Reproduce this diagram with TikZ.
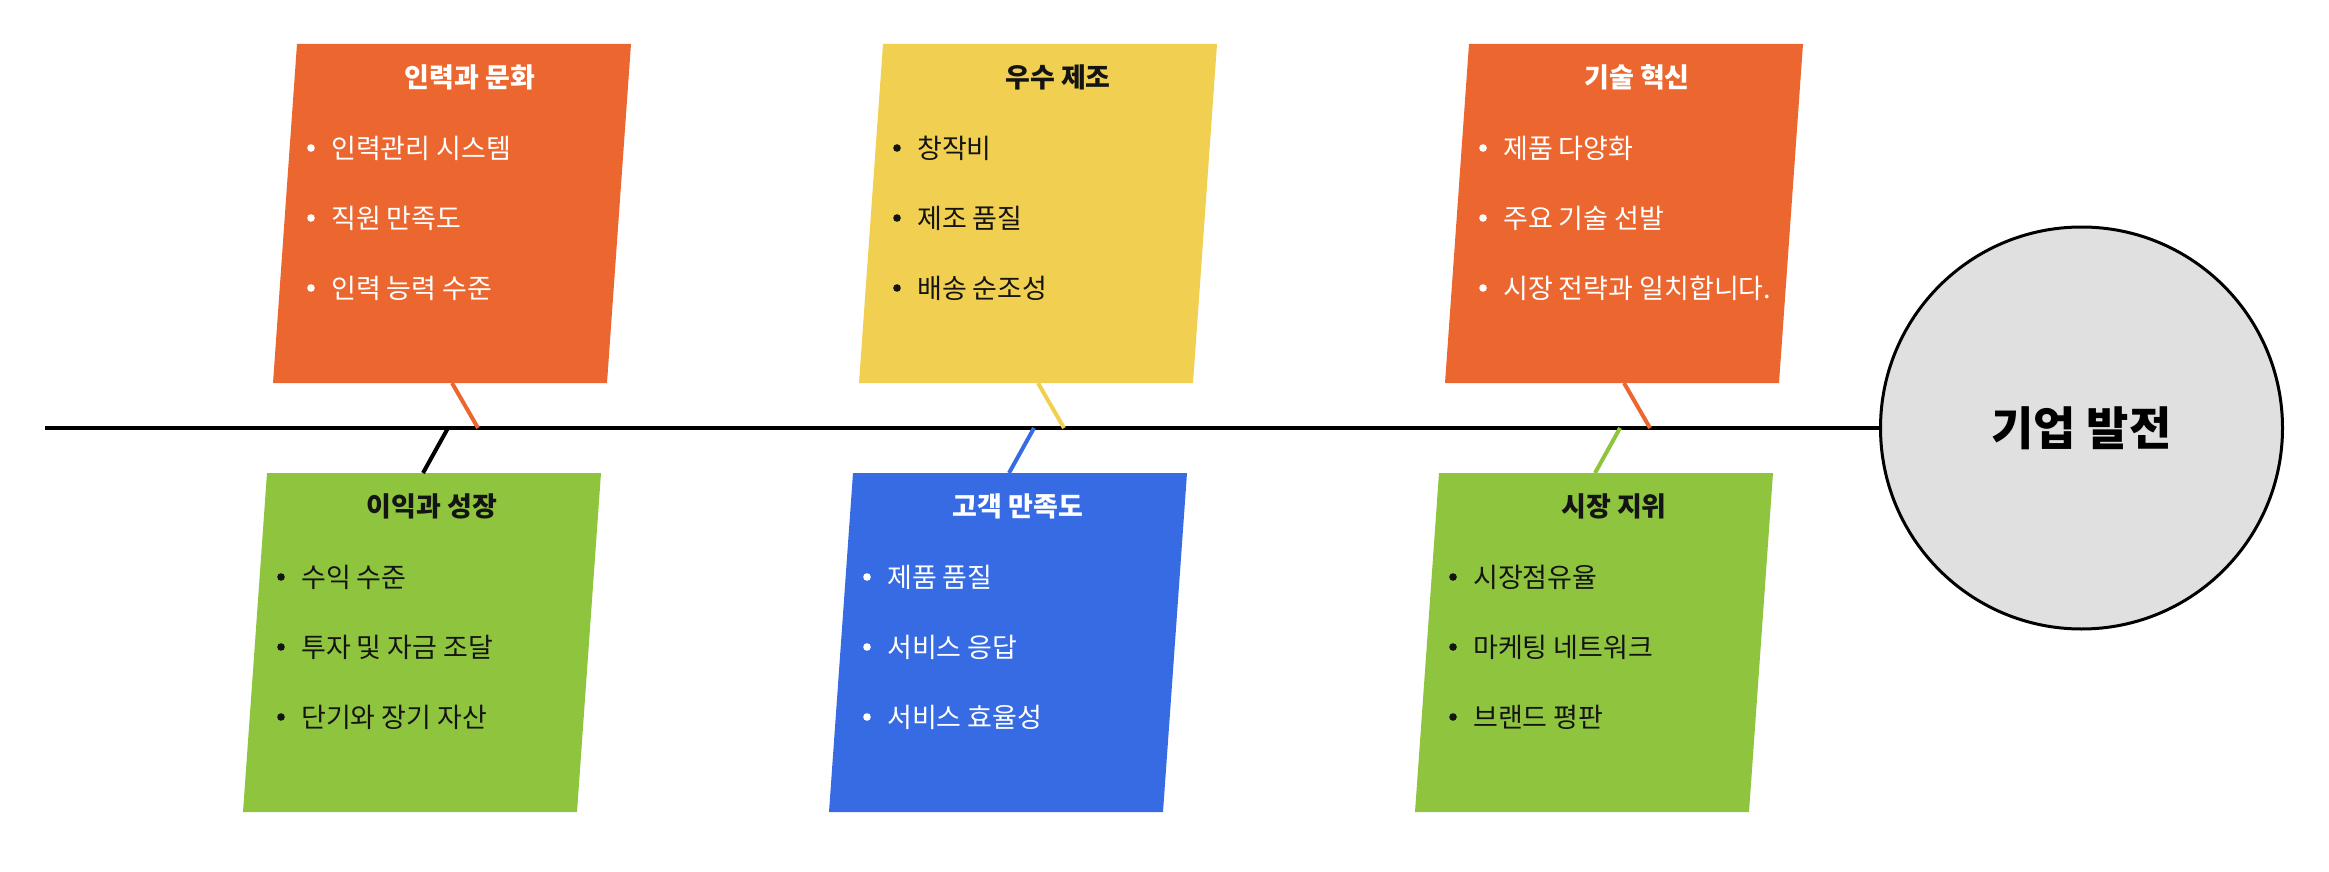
\documentclass[tikz,border=0pt]{standalone}
\usepackage{fontspec}
\newfontfamily\kr{Noto Sans CJK KR}
\definecolor{cOrange}{RGB}{236,103,48}
\definecolor{cYellow}{RGB}{241,207,80}
\definecolor{cGreen}{RGB}{143,196,62}
\definecolor{cBlue}{RGB}{55,107,227}
\definecolor{cHub}{RGB}{224,224,224}
\definecolor{cInk}{RGB}{20,20,20}
\tikzset{
  boxtitle/.style={font=\kr\bfseries\fontsize{27}{32}\selectfont, inner sep=0pt, anchor=center},
  boxitem/.style={font=\kr\fontsize{27}{32}\selectfont, inner sep=0pt, anchor=west},
  bonelink/.style={line width=4pt},
  spineline/.style={line width=4pt, draw=black},
  hubnode/.style={circle, draw=black, line width=3pt, fill=cHub, minimum size=402pt, inner sep=0pt,
                  font=\kr\bfseries\fontsize{46}{54}\selectfont, text=black},
}
% #1 name, #2 top-left x, #3 top y, #4 colour, #5 text colour, #6 title x, #7 title, #8,#9 items
\newcommand{\fishpanel}[9]{%
  \fill[#4] (#2,#3) -- ++(334,0) -- ++(-24,339) -- ++(-334,0) -- cycle;
  \node[boxtitle, text=#5] (#1t) at (#6,#3+33) {#7};
  \fill[#5] (#2+14,#3+104) circle (3.8);
  \fill[#5] (#2+14,#3+174) circle (3.8);
  \fill[#5] (#2+14,#3+244) circle (3.8);
  \node[boxitem, text=#5] (#1a) at (#2+34,#3+104) {#8};
  \node[boxitem, text=#5] (#1b) at (#2+34,#3+174) {#9};
}
\begin{document}
\begin{tikzpicture}[x=1pt,y=-1pt]
\useasboundingbox (0,0) rectangle (2329,872);

% panels (top row)
\fishpanel{p1}{297}{44}{cOrange}{white}{470}{인력과 문화}{인력관리 시스템}{직원 만족도}
\node[boxitem, text=white] (p1c) at (331,288) {인력 능력 수준};
\fishpanel{p2}{883}{44}{cYellow}{cInk}{1058}{우수 제조}{창작비}{제조 품질}
\node[boxitem, text=cInk] (p2c) at (917,288) {배송 순조성};
\fishpanel{p3}{1469}{44}{cOrange}{white}{1637}{기술 혁신}{제품 다양화}{주요 기술 선발}
\node[boxitem, text=white] (p3c) at (1503,288) {시장 전략과 일치합니다.};

% panels (bottom row)
\fishpanel{q1}{267}{473}{cGreen}{cInk}{432}{이익과 성장}{수익 수준}{투자 및 자금 조달}
\node[boxitem, text=cInk] (q1c) at (301,717) {단기와 장기 자산};
\fishpanel{q2}{853}{473}{cBlue}{white}{1018}{고객 만족도}{제품 품질}{서비스 응답}
\node[boxitem, text=white] (q2c) at (887,717) {서비스 효율성};
\fishpanel{q3}{1439}{473}{cGreen}{cInk}{1614}{시장 지위}{시장점유율}{마케팅 네트워크}
\node[boxitem, text=cInk] (q3c) at (1473,717) {브랜드 평판};

% hub and spine
\node[hubnode] (hub) at (2081.5,428) {기업 발전};
\coordinate (tail) at (45,428);
\draw[spineline] (tail) -- (hub.west);

% bone end points
\coordinate (p1e) at (452,383);  \coordinate (p1s) at (478,428);
\coordinate (p2e) at (1038,383); \coordinate (p2s) at (1064,428);
\coordinate (p3e) at (1624,383); \coordinate (p3s) at (1650,428);
\coordinate (q1e) at (423,473);  \coordinate (q1s) at (448,428);
\coordinate (q2e) at (1009,473); \coordinate (q2s) at (1034,428);
\coordinate (q3e) at (1595,473); \coordinate (q3s) at (1620,428);

\draw[bonelink, cOrange] (p1e) -- (p1s);
\draw[bonelink, cYellow] (p2e) -- (p2s);
\draw[bonelink, cOrange] (p3e) -- (p3s);
\draw[bonelink, black]   (q1e) -- (q1s);
\draw[bonelink, cBlue]   (q2e) -- (q2s);
\draw[bonelink, cGreen]  (q3e) -- (q3s);
\end{tikzpicture}
\end{document}
